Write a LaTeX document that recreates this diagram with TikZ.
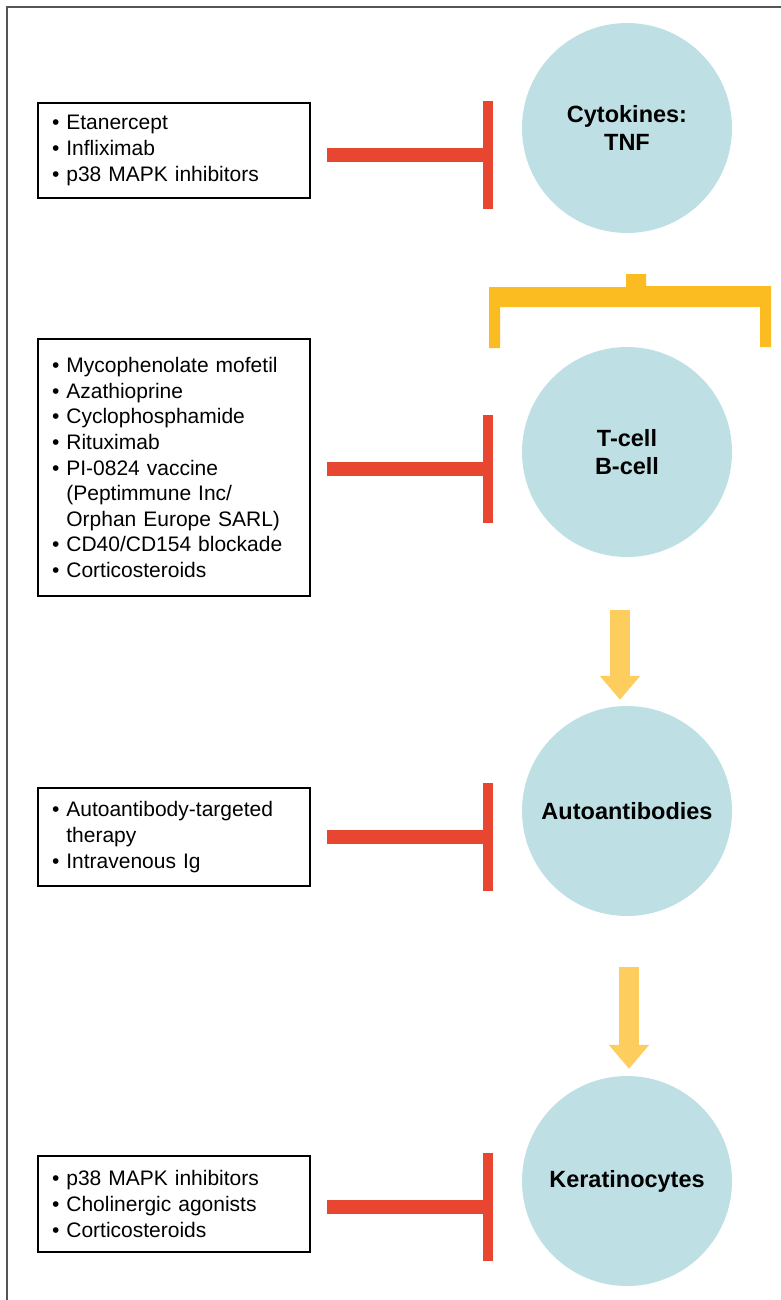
\documentclass[tikz,border=0pt]{standalone}
\usepackage{fontspec}
\setmainfont{Liberation Sans}
\usetikzlibrary{arrows.meta, positioning, calc}
\definecolor{inkframe}{HTML}{555555}
\definecolor{inkcell}{HTML}{BEE0E4}
\definecolor{inkred}{HTML}{E84631}
\definecolor{inkgold}{HTML}{FBBC22}
\definecolor{inkflow}{HTML}{FDCE5E}
\newcommand{\drugbox}[4]{%
  \node[draw=black, line width=2pt, anchor=north west, minimum width=272pt,
        minimum height=#3, text width=244pt, inner xsep=14pt, inner ysep=0pt,
        align=left] (#1) at (37,#2) {#4};}
\newcommand{\cellnode}[3]{%
  \node[circle, fill=inkcell, minimum size=210pt, inner sep=0pt, align=center,
        font=\bfseries\fontsize{23.5}{28.5}\selectfont] (#1) at (627,#2) {#3};}
\newcommand{\itm}{\textbullet\ }
\newcommand{\cont}{\hphantom{\textbullet\ }}

\begin{document}
\begin{tikzpicture}[x=1pt, y=-1pt, font=\fontsize{21}{25.6}\selectfont]
      \useasboundingbox (0,0) rectangle (781,1300);
      \draw[inkframe, line width=1.5pt] (7,1300) -- (7,7) -- (781,7);
      % targets
      \cellnode{c1}{128}{Cytokines:\\TNF}
      \cellnode{c2}{452}{T-cell\\B-cell}
      \cellnode{c3}{811}{Autoantibodies}
      \cellnode{c4}{1181}{Keratinocytes}
      % drugs
      \drugbox{d1}{102}{95pt}{\itm Etanercept\\ \itm Infliximab\\ \itm p38 MAPK inhibitors}
      \drugbox{d2}{338}{257pt}{\itm Mycophenolate mofetil\\ \itm Azathioprine\\
                               \itm Cyclophosphamide\\ \itm Rituximab\\
                               \itm PI-0824 vaccine\\ \cont(Peptimmune Inc/\\
                               \cont Orphan Europe SARL)\\ \itm CD40/CD154 blockade\\
                               \itm Corticosteroids}
      \drugbox{d3}{787}{98pt}{\itm Autoantibody-targeted\\ \cont therapy\\ \itm Intravenous Ig}
      \drugbox{d4}{1155}{96pt}{\itm p38 MAPK inhibitors\\ \itm Cholinergic agonists\\
                               \itm Corticosteroids}
      % inhibition bars
      \draw[inkred, line width=14pt] ([xshift=16pt, yshift=-4.5pt]d1.east) -- ++(161,0) coordinate (t1);
      \draw[inkred, line width=10pt] ([yshift=54pt]t1) -- ([yshift=-54pt]t1);
      \draw[inkred, line width=14pt] ([xshift=16pt, yshift=-1.5pt]d2.east) -- ++(161,0) coordinate (t2);
      \draw[inkred, line width=10pt] ([yshift=54pt]t2) -- ([yshift=-54pt]t2);
      \draw[inkred, line width=14pt] ([xshift=16pt]d3.east) -- ++(161,0) coordinate (t3);
      \draw[inkred, line width=10pt] ([yshift=54pt]t3) -- ([yshift=-54pt]t3);
      \draw[inkred, line width=14pt] ([xshift=16pt, yshift=-2.5pt]d4.east) -- ++(161,0) coordinate (t4);
      \draw[inkred, line width=10pt] ([yshift=54pt]t4) -- ([yshift=-54pt]t4);
      % cytokine bracket
      \fill[inkgold] (489,348) -- (489,287) -- (626,287) -- (626,274) -- (646,274)
                     -- (646,286) -- (771,286) -- (771,347) -- (760,347)
                     -- (760,307) -- (500,307) -- (500,348) -- cycle;
      % flow arrows
      \draw[-{Triangle[width=39pt, length=24pt]}, inkflow, line width=20pt,
            shorten <=53pt, shorten >=6pt] ([xshift=-7pt]c2.south) -- ([xshift=-7pt]c3.north);
      \draw[-{Triangle[width=39pt, length=24pt]}, inkflow, line width=20pt,
            shorten <=51pt, shorten >=7pt] ([xshift=2pt]c3.south) -- ([xshift=2pt]c4.north);
    \end{tikzpicture}
\end{document}
